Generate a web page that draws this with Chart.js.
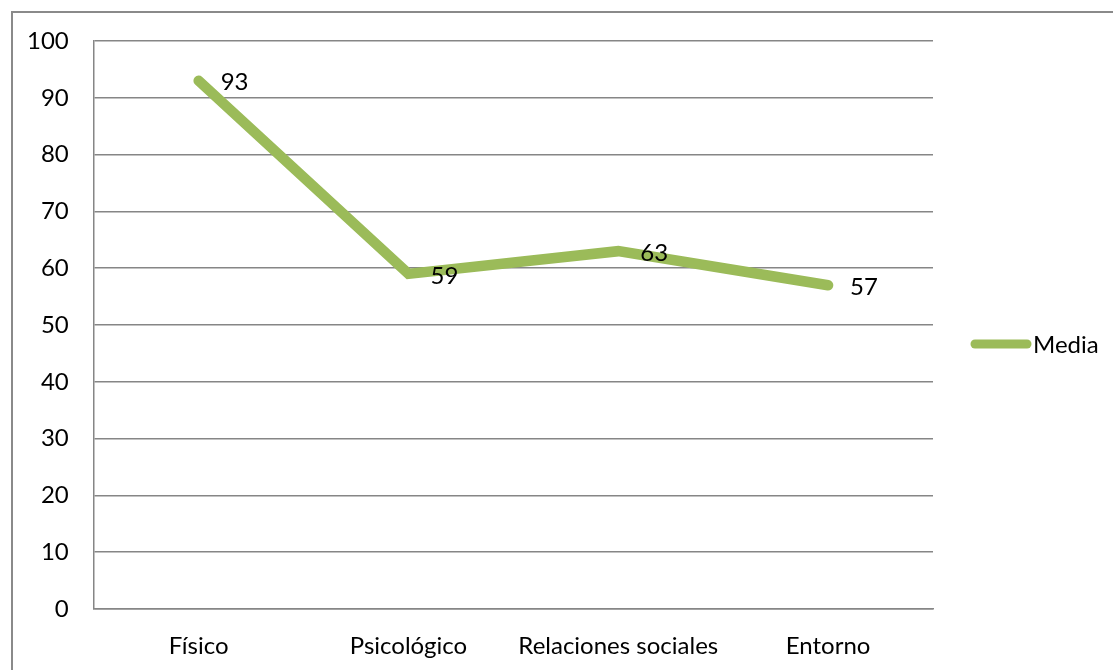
<!DOCTYPE html>
<html>
<head>
<meta charset="utf-8">
<script src="https://cdn.jsdelivr.net/npm/chart.js@4.4.0/dist/chart.umd.min.js"></script>
<style>
  html, body { margin: 0; padding: 0; background: #fff; overflow: hidden; font-family: Lato; }
  #frame { position: absolute; left: 11px; top: 11px; width: 1200px; height: 800px;
           border-left: 2px solid #8a8a8a; border-top: 2px solid #8a8a8a; }
  #wrap { position: absolute; left: 0; top: 0; width: 1113px; height: 670px; }
</style>
</head>
<body>
<div id="frame"></div>
<div id="wrap"><canvas id="mycanvas" width="1113" height="670"></canvas></div>
<script>
var categories = ["Físico", "Psicológico", "Relaciones sociales", "Entorno"];
var media = [93, 59, 63, 57];
var seriesName = "Media";
var green = "#9bbb59";
var fontSize = 24;

// etiquetas de valor + leyenda a la derecha
var valueLabels = {
	id: 'valueLabels',
	afterDatasetsDraw: function(chart) {
		var ctx = chart.ctx;
		var area = chart.chartArea;
		chart.data.datasets.forEach(function(ds, i) {
			var meta = chart.getDatasetMeta(i);
			ctx.save();
			ctx.font = fontSize + "px Lato";
			ctx.fillStyle = "#000";
			ctx.textAlign = "left";
			ctx.textBaseline = "middle";
			meta.data.forEach(function(pt, j) {
				ctx.fillText(ds.data[j], pt.x + 22, pt.y + 2);
			});

			// leyenda
			var lx = area.right + 42, ly = 344 + i * 30;
			ctx.strokeStyle = ds.borderColor;
			ctx.lineWidth = 9;
			ctx.lineCap = 'round';
			ctx.beginPath();
			ctx.moveTo(lx, ly);
			ctx.lineTo(lx + 52, ly);
			ctx.stroke();
			ctx.fillText(ds.label, lx + 58, ly + 1);
			ctx.restore();
		});
	}
};

function draw() {
	var ctx = document.getElementById("mycanvas");
	var lineGraph = new Chart(ctx, {
		type: 'line',
		data: {
			labels: categories,
			datasets: [{
				label: seriesName,
				data: media,
				borderColor: green,
				backgroundColor: green,
				borderWidth: 10.5,
				borderCapStyle: 'round',
				borderJoinStyle: 'miter',
				tension: 0,
				pointRadius: 0,
				fill: false
			}]
		},
		options: {
			responsive: false,
			animation: false,
			layout: { padding: { left: 2, top: 41, bottom: 0, right: 180 } },
			plugins: {
				legend: { display: false },
				tooltip: { enabled: false }
			},
			scales: {
				x: {
					offset: true,
					grid: { display: false, drawTicks: false },
					border: { display: true, color: '#868686', width: 1.5 },
					ticks: { color: '#000', padding: 23, font: { family: 'Lato', size: fontSize } },
					afterFit: function(scale) { scale.height = 61; }
				},
				y: {
					min: 0,
					max: 100,
					grid: { color: '#868686', lineWidth: 1.5, drawTicks: false },
					border: { display: true, color: '#868686', width: 1.5 },
					ticks: { stepSize: 10, color: '#000', padding: 25, font: { family: 'Lato', size: fontSize } }
				}
			}
		},
		plugins: [valueLabels]
	});
}

document.fonts.load(fontSize + "px Lato").then(draw, draw);
</script>
</body>
</html>
